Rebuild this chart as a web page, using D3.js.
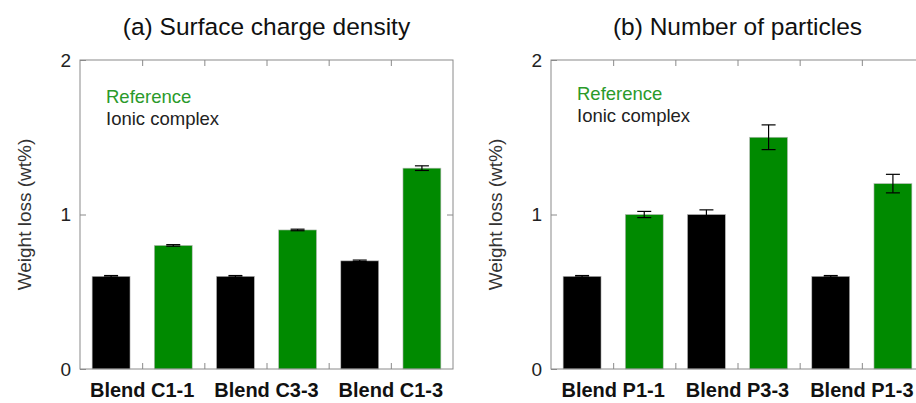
<!DOCTYPE html>
<html>
<head>
<meta charset="utf-8">
<script src="https://cdn.jsdelivr.net/npm/d3@7"></script>
<style>
  body { margin: 0; background: #fff; }
  svg { display: block; font-family: "Liberation Sans", Arial, sans-serif; }
</style>
</head>
<body>
<div id="chart"></div>
<script>
// Chart data
var titles = ["(a) Surface charge density", "(b) Number of particles"];
var groupsA = ["Blend C1-1", "Blend C3-3", "Blend C1-3"];
var ionicA = [0.6, 0.6, 0.7];
var ionicErrA = [0.005, 0.005, 0.005];
var refA = [0.8, 0.9, 1.3];
var refErrA = [0.005, 0.005, 0.015];

var groupsB = ["Blend P1-1", "Blend P3-3", "Blend P1-3"];
var ionicB = [0.6, 1.0, 0.6];
var ionicErrB = [0.005, 0.03, 0.005];
var refB = [1.0, 1.5, 1.2];
var refErrB = [0.02, 0.08, 0.06];

var yTicks = [0, 1, 2];
var legendLabels = ["Reference", "Ionic complex"];
var yLabel = "Weight loss (wt%)";

var svgWidth = 916;
var svgHeight = 403;

var panels = [
  { title: titles[0], groups: groupsA, ionic: ionicA, ionicErr: ionicErrA, ref: refA, refErr: refErrA, left: 80, legendY: 103 },
  { title: titles[1], groups: groupsB, ionic: ionicB, ionicErr: ionicErrB, ref: refB, refErr: refErrB, left: 551, legendY: 100 }
];

var plotWidth = 373;
var plotTop = 60;
var plotHeight = 309;

var green = "#008a00";
var frameColor = "#8a8a8a";

var svg = d3.select("#chart")
  .append("svg")
  .attr("width", svgWidth)
  .attr("height", svgHeight);

panels.forEach(function(p) {
  var g = svg.append("g")
    .attr("transform", `translate(${p.left}, ${plotTop})`);

  // flatten groups into bar list: ionic (black) then reference (green)
  var bars = [];
  p.groups.forEach(function(name, i) {
    bars.push({ key: name + "-ionic", value: p.ionic[i], err: p.ionicErr[i], color: "#000" });
    bars.push({ key: name + "-ref", value: p.ref[i], err: p.refErr[i], color: green });
  });

  var x = d3.scaleBand()
    .domain(bars.map(d => d.key))
    .range([0, plotWidth])
    .paddingInner(0.39)
    .paddingOuter(0.195);

  var xGroup = d3.scaleBand()
    .domain(p.groups)
    .range([0, plotWidth]);

  var xSlot = d3.scaleLinear()
    .domain([0, bars.length])
    .range([0, plotWidth]);

  var y = d3.scaleLinear()
    .domain([0, 2])
    .range([plotHeight, 0]);

  // bars
  g.selectAll("rect.bar")
    .data(bars)
    .enter()
    .append("rect")
    .attr("class", "bar")
    .attr("x", d => x(d.key))
    .attr("y", d => y(d.value))
    .attr("width", x.bandwidth())
    .attr("height", d => y(0) - y(d.value))
    .attr("fill", d => d.color)
    .attr("stroke", "#bbb")
    .attr("stroke-width", 0.6);

  // error bars
  var eb = g.selectAll("g.err")
    .data(bars)
    .enter()
    .append("g")
    .attr("class", "err")
    .attr("stroke", "#000")
    .attr("stroke-width", 1.2);
  eb.append("line")
    .attr("x1", d => x(d.key) + x.bandwidth() / 2)
    .attr("x2", d => x(d.key) + x.bandwidth() / 2)
    .attr("y1", d => y(d.value + d.err))
    .attr("y2", d => y(d.value - d.err));
  [1, -1].forEach(function(s) {
    eb.append("line")
      .attr("x1", d => x(d.key) + x.bandwidth() / 2 - 7)
      .attr("x2", d => x(d.key) + x.bandwidth() / 2 + 7)
      .attr("y1", d => y(d.value + s * d.err))
      .attr("y2", d => y(d.value + s * d.err));
  });

  // frame
  g.append("rect")
    .attr("width", plotWidth)
    .attr("height", plotHeight)
    .attr("fill", "none")
    .attr("stroke", frameColor)
    .attr("stroke-width", 1);

  var slotTicks = d3.range(1, bars.length);

  var bottomTicks = g.append("g")
    .attr("transform", `translate(0, ${plotHeight})`)
    .call(d3.axisBottom(xSlot).tickValues(slotTicks).tickSize(-6).tickFormat(""));
  var topTicks = g.append("g")
    .call(d3.axisTop(xSlot).tickValues(slotTicks).tickSize(-6).tickFormat(""));

  var leftAxis = g.append("g")
    .call(d3.axisLeft(y).tickValues(yTicks).tickSize(-6).tickPadding(9).tickFormat(d3.format("d")));
  var rightAxis = g.append("g")
    .attr("transform", `translate(${plotWidth}, 0)`)
    .call(d3.axisRight(y).tickValues([1]).tickSize(-6).tickFormat(""));

  [bottomTicks, topTicks, leftAxis, rightAxis].forEach(function(a) {
    a.select(".domain").remove();
    a.selectAll("line").attr("stroke", frameColor);
  });
  leftAxis.selectAll("text")
    .attr("font-size", "19px")
    .attr("fill", "#222")
    .attr("font-family", "Liberation Sans, Arial, sans-serif");

  // category labels
  var catAxis = g.append("g")
    .attr("transform", `translate(0, ${plotHeight})`)
    .call(d3.axisBottom(xGroup).tickSize(0).tickPadding(14));
  catAxis.select(".domain").remove();
  catAxis.selectAll("text")
    .attr("font-size", "20px")
    .attr("font-weight", "bold")
    .attr("fill", "#111")
    .attr("font-family", "Liberation Sans, Arial, sans-serif");

  // title
  g.append("text")
    .attr("x", plotWidth / 2)
    .attr("y", 35 - plotTop)
    .attr("text-anchor", "middle")
    .attr("font-size", "24.5px")
    .attr("fill", "#111")
    .text(p.title);

  // y label
  g.append("text")
    .attr("transform", `translate(-49, ${y(1)}) rotate(-90)`)
    .attr("text-anchor", "middle")
    .attr("font-size", "19px")
    .attr("fill", "#333")
    .text(yLabel);

  // legend text
  g.append("text")
    .attr("x", 26)
    .attr("y", p.legendY - plotTop)
    .attr("font-size", "18.5px")
    .attr("fill", "#2a9a2a")
    .text(legendLabels[0]);
  g.append("text")
    .attr("x", 26)
    .attr("y", p.legendY - plotTop + 22)
    .attr("font-size", "18.5px")
    .attr("fill", "#222")
    .text(legendLabels[1]);
});
</script>
</body>
</html>
